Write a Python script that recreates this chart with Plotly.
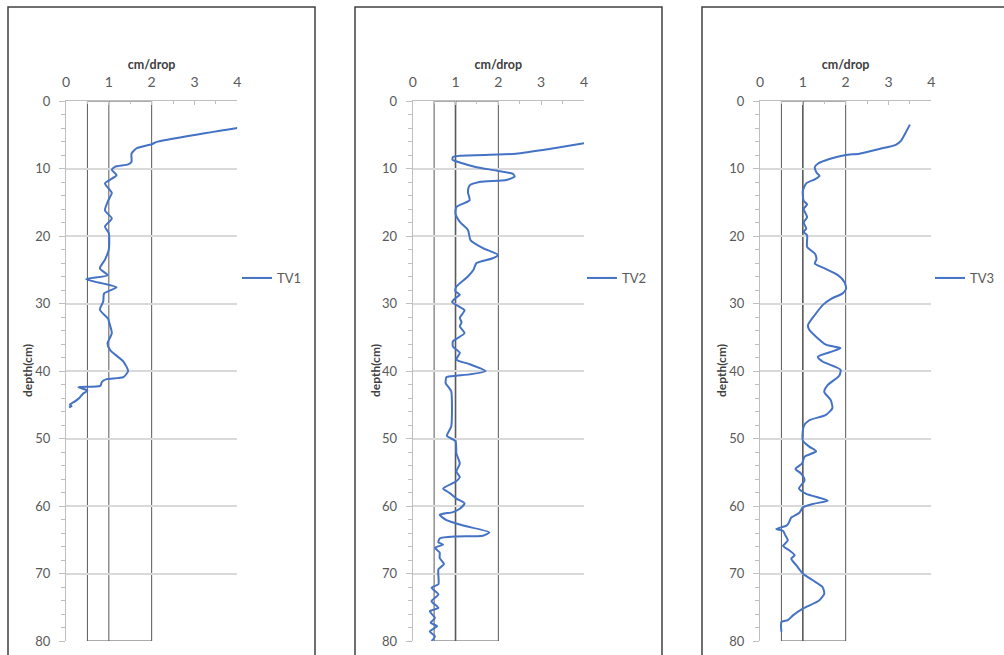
import plotly.graph_objects as go

W, H = 1004, 655

# ---- data (cm/drop vs depth cm) ----
tv1_x = [4.0, 2.12, 2.0, 1.65, 1.53, 1.53, 1.45, 1.14, 1.07, 1.18, 0.91, 1.07, 0.99, 0.91, 1.07, 0.91, 1.0, 1.0, 0.91, 0.79, 0.97, 0.47, 1.18, 0.89, 0.87, 0.79, 0.99, 0.99, 1.07, 0.97, 1.03, 1.34, 1.45, 1.34, 0.95, 0.84, 0.8, 0.29, 0.5, 0.39, 0.31, 0.21, 0.09, 0.13, 0.07]
tv1_d = [4.0, 6.06, 6.4, 7.0, 7.8, 9.0, 9.4, 9.75, 10.2, 11.0, 12.2, 13.6, 14.7, 16.2, 17.4, 18.6, 19.6, 22.0, 23.5, 24.8, 25.8, 26.4, 27.6, 28.5, 29.7, 30.9, 32.3, 32.4, 34.4, 35.9, 36.9, 38.6, 40.0, 40.9, 41.2, 41.6, 42.2, 42.4, 42.9, 43.4, 44.0, 44.5, 45.0, 45.2, 45.4]

tv2_x = [4.0, 3.19, 2.41, 1.99, 1.1, 0.94, 0.93, 1.1, 1.49, 1.95, 2.34, 2.38, 2.19, 1.56, 1.33, 1.29, 1.33, 1.18, 1.02, 1.0, 1.1, 1.29, 1.35, 1.64, 1.99, 1.87, 1.49, 1.42, 1.29, 1.02, 1.0, 1.1, 1.0, 0.92, 1.04, 1.21, 1.1, 1.14, 1.1, 1.21, 0.94, 0.94, 1.1, 1.02, 1.33, 1.7, 1.33, 1.02, 0.79, 0.77, 0.85, 0.9, 0.9, 0.8, 1.0, 1.02, 1.1, 1.02, 1.1, 1.0, 0.71, 0.87, 1.02, 1.21, 1.1, 0.94, 0.63, 0.79, 1.18, 1.79, 1.64, 1.02, 0.63, 0.6, 0.71, 0.52, 0.63, 0.63, 0.73, 0.6, 0.6, 0.44, 0.6, 0.44, 0.6, 0.4, 0.52, 0.42, 0.57, 0.4, 0.52, 0.44]
tv2_d = [6.27, 7.1, 7.8, 7.94, 8.1, 8.3, 8.7, 9.1, 9.8, 10.3, 10.8, 11.2, 11.7, 12.0, 12.5, 13.5, 14.7, 15.2, 15.7, 16.7, 17.9, 19.1, 20.6, 21.8, 22.8, 23.3, 24.0, 25.0, 26.0, 27.5, 28.2, 28.7, 29.2, 29.8, 30.3, 31.0, 32.1, 32.8, 33.4, 34.4, 35.6, 36.4, 37.3, 38.3, 39.0, 40.0, 40.5, 40.7, 40.9, 41.8, 42.5, 43.0, 48.2, 49.6, 50.4, 52.2, 53.7, 54.9, 55.7, 56.4, 57.4, 58.1, 58.9, 59.6, 60.4, 60.9, 61.3, 62.1, 62.9, 63.9, 64.4, 64.5, 64.8, 65.4, 65.7, 66.2, 66.9, 67.7, 68.6, 69.4, 71.6, 72.1, 73.1, 74.1, 75.1, 75.6, 76.6, 77.3, 77.8, 78.6, 79.3, 80.0]

tv3_x = [3.5, 3.4, 3.29, 3.17, 2.79, 2.32, 2.0, 1.62, 1.35, 1.28, 1.32, 1.39, 1.28, 1.08, 1.0, 1.02, 1.1, 1.02, 1.1, 1.02, 1.08, 1.02, 1.1, 1.1, 1.28, 1.32, 1.28, 1.51, 1.82, 1.97, 2.01, 1.93, 1.66, 1.47, 1.28, 1.12, 1.15, 1.54, 1.88, 1.69, 1.35, 1.46, 1.88, 1.85, 1.58, 1.5, 1.65, 1.69, 1.54, 1.15, 1.02, 1.0, 1.15, 1.31, 1.04, 0.98, 0.83, 0.96, 1.04, 0.91, 1.08, 1.58, 1.23, 1.0, 0.92, 0.73, 0.68, 0.62, 0.38, 0.54, 0.58, 0.65, 0.54, 0.69, 0.81, 0.73, 0.85, 1.0, 1.23, 1.46, 1.5, 1.38, 1.0, 0.77, 0.65, 0.5, 0.5]
tv3_d = [3.5, 4.7, 5.9, 6.5, 7.1, 7.8, 8.0, 8.6, 9.3, 9.8, 10.6, 11.1, 11.6, 12.2, 13.3, 14.8, 15.3, 16.0, 17.2, 18.0, 18.9, 19.4, 19.9, 21.6, 22.6, 23.4, 24.1, 24.8, 25.8, 26.8, 27.8, 28.5, 29.3, 30.2, 31.7, 33.2, 33.9, 36.1, 36.6, 37.1, 37.9, 38.6, 39.8, 40.7, 42.1, 43.1, 44.3, 45.5, 46.5, 47.3, 48.2, 50.3, 51.2, 51.9, 52.7, 53.7, 54.5, 55.2, 56.2, 57.4, 58.2, 59.2, 59.7, 60.2, 61.0, 61.7, 62.4, 62.9, 63.4, 63.7, 64.2, 65.1, 65.9, 66.6, 67.3, 67.8, 68.8, 70.0, 71.0, 72.0, 73.0, 74.0, 75.2, 76.2, 76.9, 77.2, 78.6]

series = [("TV1", tv1_x, tv1_d), ("TV2", tv2_x, tv2_d), ("TV3", tv3_x, tv3_d)]

x_range = [0, 4]
y_range = [80, 0]
band = [0.5, 2.0]
ref_line = 1.0

# ---- layout geometry (pixels) ----
plot_left = [66, 412.7, 760]
plot_w = 171.3
plot_top, plot_bot = 101, 641
panel_box = [(8, 315), (355, 662), (702, 1010)]
panel_top = 7
legend_cfg = [(237, "left"), (582, "left"), (1000, "right")]
legend_y = 278
ytitle_x = [27, 375, 721]

FONT = "Lato"
BLUE = "#4472C4"
GRAYTXT = "#595959"

fig = go.Figure()
layout = dict(template="none", width=W, height=H, autosize=False,
              margin=dict(l=0, r=0, t=0, b=0, pad=0),
              paper_bgcolor="white", plot_bgcolor="white",
              font=dict(family=FONT, color=GRAYTXT, size=13),
              shapes=[], annotations=[])

for i, (name, xs, ds) in enumerate(series):
    sfx = "" if i == 0 else str(i + 1)
    xa, ya = "xaxis" + sfx, "yaxis" + sfx
    xr, yr = "x" + sfx, "y" + sfx
    lg = "legend" + sfx
    fig.add_trace(go.Scatter(x=xs, y=ds, mode="lines", name=name,
                             line=dict(color=BLUE, width=2, shape="spline", smoothing=0.6),
                             xaxis=xr, yaxis=yr, legend=lg))
    x0 = plot_left[i] / W
    x1 = (plot_left[i] + plot_w) / W
    layout[xa] = dict(domain=[x0, x1], range=x_range, side="top", anchor=yr,
                      automargin=False,
                      dtick=1, showgrid=False, zeroline=False,
                      showline=True, linecolor="#BFBFBF", linewidth=1,
                      ticks="inside", ticklen=4, tickcolor="#BFBFBF",
                      ticklabelstandoff=7,
                      minor=dict(dtick=0.5, ticks="inside", ticklen=3, tickcolor="#BFBFBF"),
                      tickfont=dict(family=FONT, size=14, color=GRAYTXT),
                      title=dict(text="<b>cm/drop</b>", standoff=1,
                                 font=dict(family=FONT, size=12.5, color="#404040")),
                      fixedrange=True)
    layout[ya] = dict(domain=[1 - plot_bot / H, 1 - plot_top / H], range=y_range, anchor=xr,
                      automargin=False,
                      dtick=10, showgrid=True, gridcolor="#D9D9D9", gridwidth=1.5, zeroline=False,
                      showline=True, linecolor="#BFBFBF", linewidth=1,
                      ticks="outside", ticklen=6, tickcolor="#BFBFBF",
                      ticklabelstandoff=6,
                      minor=dict(dtick=2, ticks="outside", ticklen=4, tickcolor="#BFBFBF", showgrid=False),
                      tickfont=dict(family=FONT, size=13, color=GRAYTXT),
                      title=None, fixedrange=True)
    layout["shapes"].append(dict(type="rect", xref=xr, yref=yr, x0=band[0], x1=band[1],
                                 y0=0, y1=80, line=dict(color="#595959", width=1), layer="below"))
    layout["shapes"].append(dict(type="line", xref=xr, yref=yr, x0=ref_line, x1=ref_line,
                                 y0=0, y1=80, line=dict(color="#595959", width=1 if i == 0 else 1.6),
                                 layer="below"))
    bx0, bx1 = panel_box[i]
    layout["shapes"].append(dict(type="rect", xref="paper", yref="paper",
                                 x0=bx0 / W, x1=bx1 / W, y0=-0.05, y1=1 - panel_top / H,
                                 line=dict(color="#404040", width=1.5), layer="below"))
    layout["annotations"].append(dict(text="<b>depth(cm)</b>", xref="paper", yref="paper",
                                      x=ytitle_x[i] / W, y=1 - 371 / H, textangle=-90,
                                      showarrow=False, font=dict(family=FONT, size=12, color="#404040"),
                                      xanchor="center", yanchor="middle"))
    lx, lxa = legend_cfg[i]
    layout[lg] = dict(x=lx / W, y=1 - legend_y / H, xanchor=lxa, yanchor="middle",
                      bgcolor="rgba(0,0,0,0)", borderwidth=0,
                      font=dict(family=FONT, size=13, color=GRAYTXT))

layout["showlegend"] = True
fig.update_layout(**layout)
fig.write_html("out.html", config={"displayModeBar": False},
               post_script="document.body.style.margin='0px';document.body.style.overflow='hidden';")
